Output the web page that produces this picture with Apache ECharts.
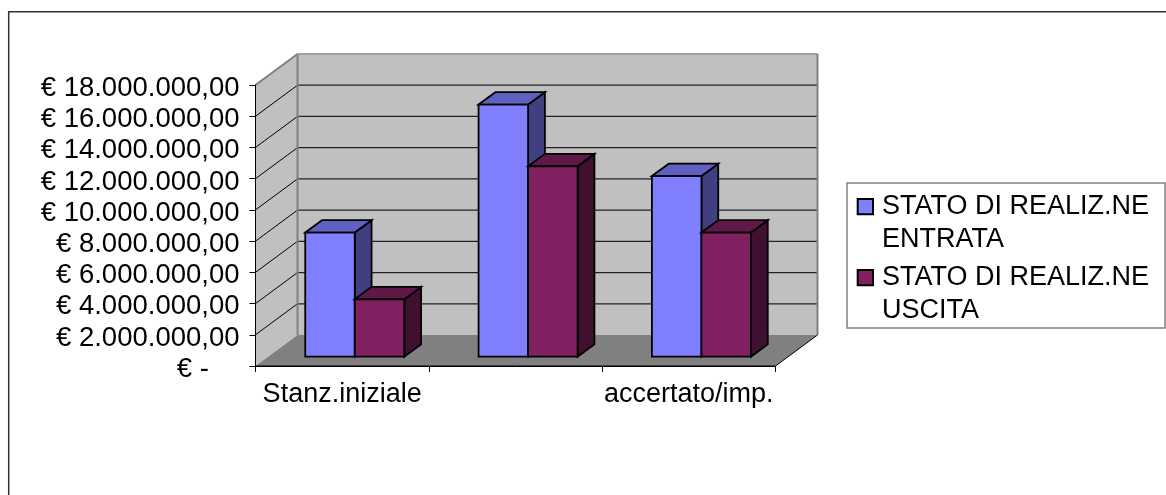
<!DOCTYPE html>
<html><head><meta charset="utf-8">
<style>html,body{margin:0;padding:0;background:#fff}#c{width:1166px;height:495px}</style>
<script src="https://cdn.jsdelivr.net/npm/echarts@6/dist/echarts.min.js"></script>
</head><body><div id="c"></div>
<script>
var categories = ['Stanz.iniziale', '', 'accertato/imp.'];
var entrata = [7950000, 16150000, 11570000];
var uscita = [3680000, 12200000, 7950000];
var seriesNames = ['STATO DI REALIZ.NE\nENTRATA', 'STATO DI REALIZ.NE\nUSCITA'];
var yTicks = [0, 2000000, 4000000, 6000000, 8000000, 10000000, 12000000, 14000000, 16000000, 18000000];

var FONT = '"Liberation Sans", Arial, sans-serif';
var DX = 42, DY = 31;
var LEGEND_ICON = 'path://M0 0M0 10H15.3V25.3H0ZM19.3 68';

function fmt(v) {
  if (v === 0) return '€ -\u00A0\u00A0\u00A0\u00A0';
  return '€ ' + String(v).replace(/\B(?=(\d{3})+$)/g, '.') + ',00';
}
function shift(p, f) { return [p[0] + DX * f, p[1] - DY * f]; }

function renderWalls(params, api) {
  var cs = params.coordSys;
  var l = cs.x, r = cs.x + cs.width, t = cs.y, b = cs.y + cs.height;
  var children = [];
  function poly(points, fill) {
    children.push({type: 'polygon', shape: {points: points}, style: {fill: fill, stroke: null}});
  }
  function line(a, c, stroke, w) {
    children.push({type: 'line', shape: {x1: a[0], y1: a[1], x2: c[0], y2: c[1]}, style: {stroke: stroke, lineWidth: w, fill: null}});
  }
  var fl = [l, b], fr = [r, b], tl = [l, t];
  poly([shift(fl, 1), shift(fr, 1), shift([r, t], 1), shift(tl, 1)], '#C0C0C0');
  poly([fl, shift(fl, 1), shift(tl, 1), tl], '#C0C0C0');
  poly([fl, fr, shift(fr, 1), shift(fl, 1)], '#808080');
  yTicks.forEach(function (v) {
    var y = api.coord([0, v])[1];
    children.push({type: 'text', style: {
      text: fmt(v), x: l - 16, y: y + 3.3,
      align: 'right', verticalAlign: 'middle',
      font: '27.5px ' + FONT, fill: '#000'
    }});
    if (v === 0 || v === yTicks[yTicks.length - 1]) return;
    line([l, y], shift([l, y], 1), '#000', 1);
    line(shift([l, y], 1), shift([r, y], 1), '#222', 1.2);
  });
  var top = [l, t];
  line(top, shift(top, 1), '#808080', 2);
  line(shift(top, 1), shift([r, t], 1), '#A0A0A0', 2);
  line(shift(fl, 1), shift(top, 1), '#808080', 2);
  line(shift([r, t], 1), shift(fr, 1), '#808080', 2);
  line(fr, shift(fr, 1), '#000', 1);
  line(tl, fl, '#333', 1);
  line(fl, fr, '#000', 1);
  return {type: 'group', children: children};
}

function barRenderer(idx, face, topC, sideC) {
  return function (params, api) {
    var band = api.size([1, 0])[0];
    var w = band / 3.5;
    var base = api.coord([api.value(0), 0]);
    var cx = base[0];
    var x0 = cx - w + idx * w;
    var x1 = x0 + w;
    var y0 = base[1];
    var y1 = api.coord([api.value(0), api.value(1)])[1];
    var f = 0.3, g = 0.7;
    var A = shift([x0, y1], f), B = shift([x1, y1], f), C = shift([x1, y0], f), D = shift([x0, y0], f);
    var B2 = shift([x1, y1], g), A2 = shift([x0, y1], g), C2 = shift([x1, y0], g);
    var st = function (fill) { return {fill: fill, stroke: '#000', lineWidth: 1.8, lineJoin: 'miter'}; };
    return {type: 'group', children: [
      {type: 'polygon', shape: {points: [B, B2, C2, C]}, style: st(sideC)},
      {type: 'polygon', shape: {points: [A, A2, B2, B]}, style: st(topC)},
      {type: 'polygon', shape: {points: [A, B, C, D]}, style: st(face)}
    ]};
  };
}

function pairs(values) { return values.map(function (v, i) { return [i, v]; }); }

var chart = echarts.init(document.getElementById('c'), null, {renderer: 'canvas'});
chart.setOption({
  animation: false,
  backgroundColor: '#fff',
  graphic: [
    {type: 'line', z: -1, silent: true, shape: {x1: 8, y1: 11.7, x2: 1166, y2: 11.7}, style: {stroke: '#333', lineWidth: 1.5}},
    {type: 'line', z: -1, silent: true, shape: {x1: 8.7, y1: 11, x2: 8.7, y2: 495}, style: {stroke: '#333', lineWidth: 1.5}}
  ],
  grid: {left: 255.5, top: 85, width: 520, height: 281, containLabel: false},
  xAxis: {
    type: 'category', data: categories, z: 6,
    axisLine: {show: true, lineStyle: {color: '#000', width: 1}},
    axisTick: {show: true, interval: 0, alignWithLabel: false, length: 6, lineStyle: {color: '#000'}},
    axisLabel: {color: '#000', fontFamily: FONT, fontSize: 27, margin: 15, interval: 0},
    splitLine: {show: false}
  },
  yAxis: {
    type: 'value', min: 0, max: 18000000, interval: 2000000, z: 6,
    axisLine: {show: true, lineStyle: {color: '#000', width: 1}},
    axisTick: {show: true, length: 6, lineStyle: {color: '#000'}},
    axisLabel: {show: false},
    splitLine: {show: false}
  },
  legend: {
    orient: 'vertical', left: 847, top: 183,
    padding: [5, 16, -1, 9.7], itemGap: 1,
    backgroundColor: '#fff', borderColor: '#808080', borderWidth: 1.5,
    itemWidth: 19.3, itemHeight: 68,
    textStyle: {color: '#000', fontFamily: FONT, fontSize: 27, lineHeight: 33.5},
    data: [
      {name: seriesNames[0], icon: LEGEND_ICON, itemStyle: {color: '#8080FF', borderColor: '#000', borderWidth: 2}},
      {name: seriesNames[1], icon: LEGEND_ICON, itemStyle: {color: '#802060', borderColor: '#000', borderWidth: 2}}
    ]
  },
  series: [
    {type: 'custom', name: 'walls', z: 1, silent: true, clip: false, renderItem: renderWalls, data: [[0, 0]]},
    {type: 'custom', name: seriesNames[0], z: 2, clip: false, itemStyle: {color: '#8080FF'},
     renderItem: barRenderer(0, '#8080FF', '#6060C0', '#404080'), data: pairs(entrata), encode: {x: 0, y: 1}},
    {type: 'custom', name: seriesNames[1], z: 3, clip: false, itemStyle: {color: '#802060'},
     renderItem: barRenderer(1, '#802060', '#601848', '#401030'), data: pairs(uscita), encode: {x: 0, y: 1}}
  ]
});
</script></body></html>
